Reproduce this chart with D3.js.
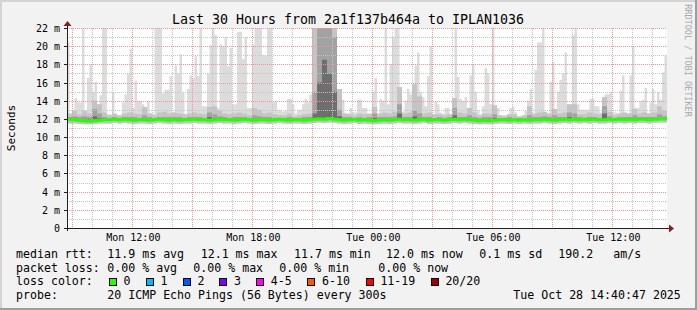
<!DOCTYPE html>
<html><head><meta charset="utf-8">
<script src="https://cdn.jsdelivr.net/npm/d3@7"></script>
<style>
html,body{margin:0;padding:0;background:#f2f2f2}
svg{display:block}
text{font-family:"DejaVu Sans Mono",monospace}
</style>
</head><body>
<svg id="chart" width="697" height="310"></svg>
<script>
// ---------- data ----------
const title = "Last 30 Hours from 2a1f137b464a to IPLAN1036";
const startTime = new Date(2025, 9, 27, 8, 42, 30);
const endTime = new Date(2025, 9, 28, 14, 42, 30);
const maxStepMinutes = 7.5;   // step of maxRtt
const stepMinutes = 15;       // step of the other series

// top of lightest smoke (max ping), ms, every 7.5 min
const maxRtt = [
20.4,12.5,12.5,14.3,13.8,13.8,23,12.5,16.5,18,
14.9,16.1,13.6,14.6,23,23,12.5,12.5,15,12.4,
12.4,12.4,13.8,14.7,17,19.7,13.2,16.2,14,14,
13.6,13,14,12.6,12.6,23,23,23,14.8,15.2,
15.2,16.7,12.4,17.9,17,19.1,14.9,12.4,15.3,16.8,
16.5,18.9,16.7,23,13.4,13.4,17,20.1,23,21.2,
13.2,20.2,20,21,17.8,19.8,13.6,13.6,21.6,21.6,
18.6,21,13.2,13.2,20.1,23,23,23,19,19,
23,23,13.8,14,13,13,12.8,12.9,14.2,14.2,
13.6,12.6,13,13,13.6,14.2,13.8,14.7,23,23,
23,23,23,23,23,23,23,23,14.1,14.1,
14.1,12.6,12.6,13.2,12.7,12.7,14.1,14.1,13.2,13.2,
12.3,12.3,15,16.5,12.5,14.2,14,22,13.6,18,
21,23,23,13.6,12.8,14,15.3,14.7,14.9,17.9,
19.3,15,14.4,13.4,16.7,20,12.3,13.9,13.6,12.7,
12.6,13.2,13.2,12.5,13.4,23,16.6,14.2,14,14.4,
12.9,16.8,18,15,12.9,12.5,13.4,17.6,17,13.6,
23,13.2,13.2,12.4,12.4,12.4,12.4,13.2,13.3,12.7,
12.1,12.1,12.1,12.9,14,15.3,12.1,17.4,20.4,20.4,
23,12.6,12.6,16.1,18.3,12.7,15,16.3,17,19.3,
13.2,13.2,21.2,23,13.6,13,13,13,13,14.2,
14.2,13.4,13.4,12.7,12.5,14.7,14.7,15,12.7,12.7,
12.4,15.1,16.8,12.6,12.6,16.8,20,13.2,13.2,14,
14.1,15.4,12.6,13.8,15.3,13.6,15,14.1,17.1,19];

// medium smoke
const p2Rtt = [
12.6,12.9,12.5,12.9,12.6,14.0,13.6,12.7,12.4,12.6,
12.4,12.6,12.7,12.6,12.5,13.3,12.6,12.4,12.7,12.8,
12.6,12.7,12.6,12.5,12.6,12.7,12.6,12.5,13.3,13.4,
12.9,12.6,12.5,12.6,12.7,12.6,12.4,13.2,13.0,12.6,
12.7,12.5,12.4,12.4,12.6,12.3,12.4,12.5,12.6,23,
23,23,23,23,15.3,12.6,12.5,12.4,12.6,12.5,
12.6,13.3,12.6,12.7,12.6,12.8,15.5,12.6,12.7,15.8,
14.5,12.6,12.7,12.5,12.5,12.4,12.5,14.3,12.7,12.6,
13.2,12.7,12.4,12.6,12.6,13.5,12.4,12.3,12.5,12.5,
12.3,12.4,13.4,12.6,12.7,12.8,12.6,13.1,12.6,12.7,
13.6,13.6,12.5,12.5,12.7,12.6,12.5,14.4,12.8,12.4,
12.6,12.7,12.6,13.1,12.6,12.7,12.6,12.7,13.4,12.9];

// dark smoke
const p3Rtt = [
12.2,12.3,12.2,12.3,12.2,13.1,12.6,12.2,12.1,12.2,
12.1,12.2,12.2,12.2,12.1,12.4,12.2,12.1,12.2,12.2,
12.2,12.2,12.2,12.1,12.2,12.2,12.2,12.1,12.7,12.5,
12.3,12.2,12.1,12.2,12.2,12.2,12.1,12.4,12.3,12.2,
12.2,12.1,12.1,12.1,12.2,12.1,12.1,12.2,12.2,15,
23,23,23,21,13,12.2,12.2,12.1,12.2,12.1,
12.2,12.6,12.2,12.2,12.2,12.3,13.6,12.2,12.2,12.9,
12.6,12.2,12.2,12.1,12.2,12.1,12.2,13.2,12.2,12.2,
12.4,12.2,12.1,12.2,12.2,12.5,12.1,12.1,12.2,12.1,
12.1,12.1,12.4,12.2,12.2,12.3,12.2,12.4,12.2,12.2,
12.7,12.6,12.2,12.1,12.2,12.2,12.1,13.4,12.3,12.1,
12.2,12.2,12.2,12.4,12.2,12.2,12.2,12.2,12.5,12.3];

// darkest smoke
const p4Rtt = [
12.0,12.0,12.0,12.0,12.0,12.3,12.1,12.0,12.0,12.0,
12.0,12.0,12.0,12.0,12.0,12.0,12.0,12.0,12.0,12.0,
12.0,12.0,12.0,12.0,12.0,12.0,12.0,12.0,12.2,12.1,
12.0,12.0,12.0,12.0,12.0,12.0,12.0,12.0,12.0,12.0,
12.0,12.0,12.0,12.0,12.0,12.0,12.0,12.0,12.0,12.6,
16,18.5,17,15,12.3,12.0,12.0,12.0,12.0,12.0,
12.0,12.1,12.0,12.0,12.0,12.0,12.6,12.0,12.0,12.3,
12.1,12.0,12.0,12.0,12.0,12.0,12.0,12.4,12.0,12.0,
12.0,12.0,12.0,12.0,12.0,12.1,12.0,12.0,12.0,12.0,
12.0,12.0,12.0,12.0,12.0,12.0,12.0,12.0,12.0,12.0,
12.2,12.1,12.0,12.0,12.0,12.0,12.0,12.6,12.0,12.0,
12.0,12.0,12.0,12.0,12.0,12.0,12.0,12.0,12.1,12.0];

// lowest ping
const minRtt = [
11.5,11.5,11.45,11.4,11.4,11.45,11.5,11.5,11.5,11.55,
11.5,11.55,11.5,11.45,11.5,11.5,11.45,11.5,11.55,11.5,
11.45,11.5,11.45,11.5,11.5,11.55,11.5,11.5,11.45,11.5,
11.55,11.5,11.5,11.45,11.5,11.55,11.5,11.45,11.5,11.5,
11.45,11.5,11.55,11.5,11.45,11.5,11.5,11.45,11.5,11.55,
11.6,11.55,11.6,11.55,11.5,11.45,11.5,11.55,11.45,11.5,
11.45,11.4,11.45,11.5,11.45,11.5,11.55,11.5,11.5,11.45,
11.5,11.55,11.45,11.5,11.5,11.45,11.5,11.55,11.5,11.55,
11.5,11.45,11.4,11.45,11.4,11.45,11.5,11.5,11.45,11.5,
11.45,11.5,11.45,11.5,11.5,11.55,11.5,11.45,11.5,11.55,
11.5,11.55,11.5,11.55,11.5,11.55,11.5,11.5,11.55,11.5,
11.55,11.5,11.55,11.5,11.55,11.55,11.5,11.55,11.6,11.6];

// median rtt
const medianRtt = [
11.95,11.9,11.85,11.8,11.75,11.8,11.85,11.9,11.9,11.95,
11.9,11.95,11.9,11.85,11.9,11.9,11.85,11.9,11.95,11.9,
11.85,11.9,11.85,11.9,11.9,11.95,11.9,11.9,11.85,11.9,
11.95,11.9,11.9,11.85,11.9,11.95,11.9,11.85,11.9,11.9,
11.85,11.9,11.95,11.9,11.85,11.9,11.9,11.85,11.9,11.95,
12.0,11.95,12.05,11.95,11.9,11.85,11.9,11.95,11.85,11.9,
11.85,11.8,11.85,11.9,11.85,11.9,11.95,11.9,11.9,11.85,
11.9,11.95,11.85,11.9,11.9,11.85,11.9,11.95,11.9,11.95,
11.9,11.85,11.8,11.85,11.8,11.85,11.9,11.9,11.85,11.9,
11.85,11.9,11.85,11.9,11.9,11.95,11.9,11.85,11.9,11.95,
11.9,11.95,11.9,11.95,11.9,11.95,11.9,11.9,11.95,11.9,
11.95,11.9,11.95,11.9,11.95,11.95,11.9,11.95,12.0,12.0];

const yTickValues = [0,2,4,6,8,10,12,14,16,18,20,22];
const xTickLabels = ["Mon 12:00","Mon 18:00","Tue 00:00","Tue 06:00","Tue 12:00"];
const xTickTimes = [new Date(2025,9,27,12), new Date(2025,9,27,18), new Date(2025,9,28,0), new Date(2025,9,28,6), new Date(2025,9,28,12)];

const legendRtt = ["median rtt:","11.9 ms avg","12.1 ms max","11.7 ms min","12.0 ms now","0.1 ms sd","190.2","am/s"];
const legendLoss = ["packet loss:","0.00 % avg","0.00 % max","0.00 % min","0.00 % now"];
const lossLabels = ["0","1","2","3","4-5","6-10","11-19","20/20"];
const lossColors = ["#26ff00","#00b8ff","#0059ff","#7e00ff","#ff00ff","#ff5500","#ff0000","#a10000"];
const legendProbe = ["probe:","20 ICMP Echo Pings (56 Bytes) every 300s","Tue Oct 28 14:40:47 2025"];

// ---------- layout ----------
const W = 697, H = 310;
const L = 67, R = 667, T = 28, B = 228;
const svg = d3.select("#chart");

const x = d3.scaleTime().domain([startTime, endTime]).range([L, R]);
const y = d3.scaleLinear().domain([0, 22]).range([B, T]);

// frame
svg.append("rect").attr("x",0).attr("y",0).attr("width",W).attr("height",H).attr("fill","#f2f2f2");
svg.append("path").attr("d",`M0,1H${W}M1,0V${H}`).attr("stroke","#d4d4d4").attr("stroke-width",2);
svg.append("path").attr("d",`M0,${H-1}H${W}M${W-1},0V${H}`).attr("stroke","#9e9e9e").attr("stroke-width",2);

// canvas
svg.append("rect").attr("x",L).attr("y",T).attr("width",R-L).attr("height",B-T).attr("fill","#ffffff");
svg.append("clipPath").attr("id","plotclip").append("rect").attr("x",L).attr("y",T).attr("width",R-L).attr("height",B-T);

function series(lo, hi, step) {
  const pts = hi.map((v, i) => ({
    t: d3.timeSecond.offset(startTime, Math.round(i * step * 60)),
    lo: lo(i), hi: v
  }));
  pts.push({t: endTime, lo: pts[pts.length-1].lo, hi: pts[pts.length-1].hi});
  return pts;
}
const ratio = stepMinutes / maxStepMinutes;
const area = d3.area().curve(d3.curveStepAfter).x(d => x(d.t)).y0(d => y(d.lo)).y1(d => y(d.hi));
const plot = svg.append("g").attr("clip-path","url(#plotclip)");
plot.append("path").datum(series(i => minRtt[Math.floor(i / ratio)], maxRtt, maxStepMinutes))
  .attr("d", area).attr("fill","#dcdcdc");
plot.append("path").datum(series(i => minRtt[i], p2Rtt, stepMinutes)).attr("fill","#c4c4c4").attr("d", area);
plot.append("path").datum(series(i => medianRtt[i], p3Rtt, stepMinutes)).attr("fill","#a2a2a2").attr("d", area);
plot.append("path").datum(series(i => medianRtt[i], p4Rtt, stepMinutes)).attr("fill","#6e6e6e").attr("d", area);

// grid
const grid = svg.append("g");
const minorX = d3.timeHour.every(1).range(startTime, endTime).filter(d => d.getHours() % 3 !== 0);
const majorX = d3.timeHour.every(3).range(startTime, endTime);
grid.selectAll(".gx").data(minorX).join("line")
  .attr("x1", d => Math.floor(x(d)) + 0.5).attr("x2", d => Math.floor(x(d)) + 0.5)
  .attr("y1", T).attr("y2", B).attr("stroke","#c4c4c4").attr("stroke-dasharray","1,1");
const minorY = d3.range(1, 23, 2);
grid.selectAll(".gy").data(minorY).join("line")
  .attr("x1", L).attr("x2", R)
  .attr("y1", d => Math.round(y(d)) + 0.5).attr("y2", d => Math.round(y(d)) + 0.5)
  .attr("stroke","#c4c4c4").attr("stroke-dasharray","1,1");
grid.selectAll(".mx").data(majorX).join("line")
  .attr("x1", d => Math.floor(x(d)) + 0.5).attr("x2", d => Math.floor(x(d)) + 0.5)
  .attr("y1", T).attr("y2", B + 2).attr("stroke","#f09696").attr("stroke-dasharray","1,1");
grid.selectAll(".my").data(yTickValues.filter(v => v > 0)).join("line")
  .attr("x1", L).attr("x2", R)
  .attr("y1", d => Math.round(y(d)) + 0.5).attr("y2", d => Math.round(y(d)) + 0.5)
  .attr("stroke","#f09696").attr("stroke-dasharray","1,1");

// median line
const line = d3.line().curve(d3.curveStepAfter).x(d => x(d.t)).y(d => y(d.hi));
svg.append("g").attr("clip-path","url(#plotclip)").append("path")
  .datum(series(i => medianRtt[i], medianRtt, stepMinutes)).attr("d", line)
  .attr("fill","none").attr("stroke","#26ff00").attr("stroke-width",3);

// axes
const yAxis = d3.axisLeft(y).tickValues(yTickValues)
  .tickFormat(d => d === 0 ? "0" : d + " m").tickSize(3).tickPadding(4);
const gy = svg.append("g").attr("transform",`translate(${L},0)`).call(yAxis);
gy.select(".domain").remove();
gy.selectAll(".tick").attr("transform", d => `translate(0,${Math.round(y(d)) + 0.5})`);
gy.selectAll("text").attr("font-size",10).attr("font-family","DejaVu Sans Mono").attr("fill","#000").attr("dy","0.35em");
gy.selectAll("line").attr("stroke","#1f1f1f");

const xAxis = d3.axisBottom(x).tickValues(xTickTimes)
  .tickFormat((d, i) => xTickLabels[i]).tickSize(0).tickPadding(6);
const gx = svg.append("g").attr("transform",`translate(0,${B})`).call(xAxis);
gx.select(".domain").remove();
gx.selectAll("text").attr("font-size",10).attr("font-family","DejaVu Sans Mono").attr("fill","#000");

svg.append("line").attr("x1",L-3).attr("x2",R+3).attr("y1",B+0.5).attr("y2",B+0.5).attr("stroke","#1f1f1f");
svg.append("line").attr("x1",L+0.5).attr("x2",L+0.5).attr("y1",B+3).attr("y2",T-3).attr("stroke","#1f1f1f");
svg.append("path").attr("d",`M${R+2},${B-3.5}L${R+7},${B+0.5}L${R+2},${B+4.5}Z`).attr("fill","#801f1f");
svg.append("path").attr("d",`M${L-3.5},${T-2}L${L+0.5},${T-7}L${L+4.5},${T-2}Z`).attr("fill","#801f1f");

// titles
svg.append("text").attr("x",348).attr("y",24).attr("text-anchor","middle")
  .attr("font-size",13.3).attr("fill","#000").text(title);
svg.append("text").attr("transform",`translate(15,128) rotate(-90)`).attr("text-anchor","middle")
  .attr("font-size",11).attr("fill","#000").text("Seconds");
svg.append("text").attr("transform",`translate(684.5,60.5) rotate(90)`).attr("text-anchor","middle")
  .attr("font-size",8.5).attr("fill","#a8a8a8").text("RRDTOOL / TOBI OETIKER");

// legend
const lfs = 11.6;
const rowY = [258, 271.7, 285.4, 299.1];
const rttX = [16, 107.3, 200.7, 294, 386, 479.3, 558.3, 613.3];
const lossX = [16, 107.3, 193.3, 279.3, 378.3];
const boxX = [108.7, 145.7, 182.7, 219.3, 256, 307.3, 365.7, 430.7];
const probeX = [16, 107.3, 513.3];
const lg = svg.append("g").attr("font-size", lfs).attr("fill","#000");
lg.selectAll(".r1").data(legendRtt).join("text").attr("x",(d,i)=>rttX[i]).attr("y",rowY[0]).text(d=>d);
lg.selectAll(".r2").data(legendLoss).join("text").attr("x",(d,i)=>lossX[i]).attr("y",rowY[1]).text(d=>d);
lg.append("text").attr("x",16).attr("y",rowY[2]).text("loss color:");
lg.selectAll(".bx").data(lossColors).join("rect")
  .attr("x",(d,i)=>Math.round(boxX[i])+0.5).attr("y",278.5).attr("width",7).attr("height",7)
  .attr("fill",d=>d).attr("stroke","#000");
lg.selectAll(".bt").data(lossLabels).join("text")
  .attr("x",(d,i)=>boxX[i]+14.7).attr("y",rowY[2]).text(d=>d);
lg.selectAll(".r4").data(legendProbe).join("text").attr("x",(d,i)=>probeX[i]).attr("y",rowY[3]).text(d=>d);
</script>
</body></html>
